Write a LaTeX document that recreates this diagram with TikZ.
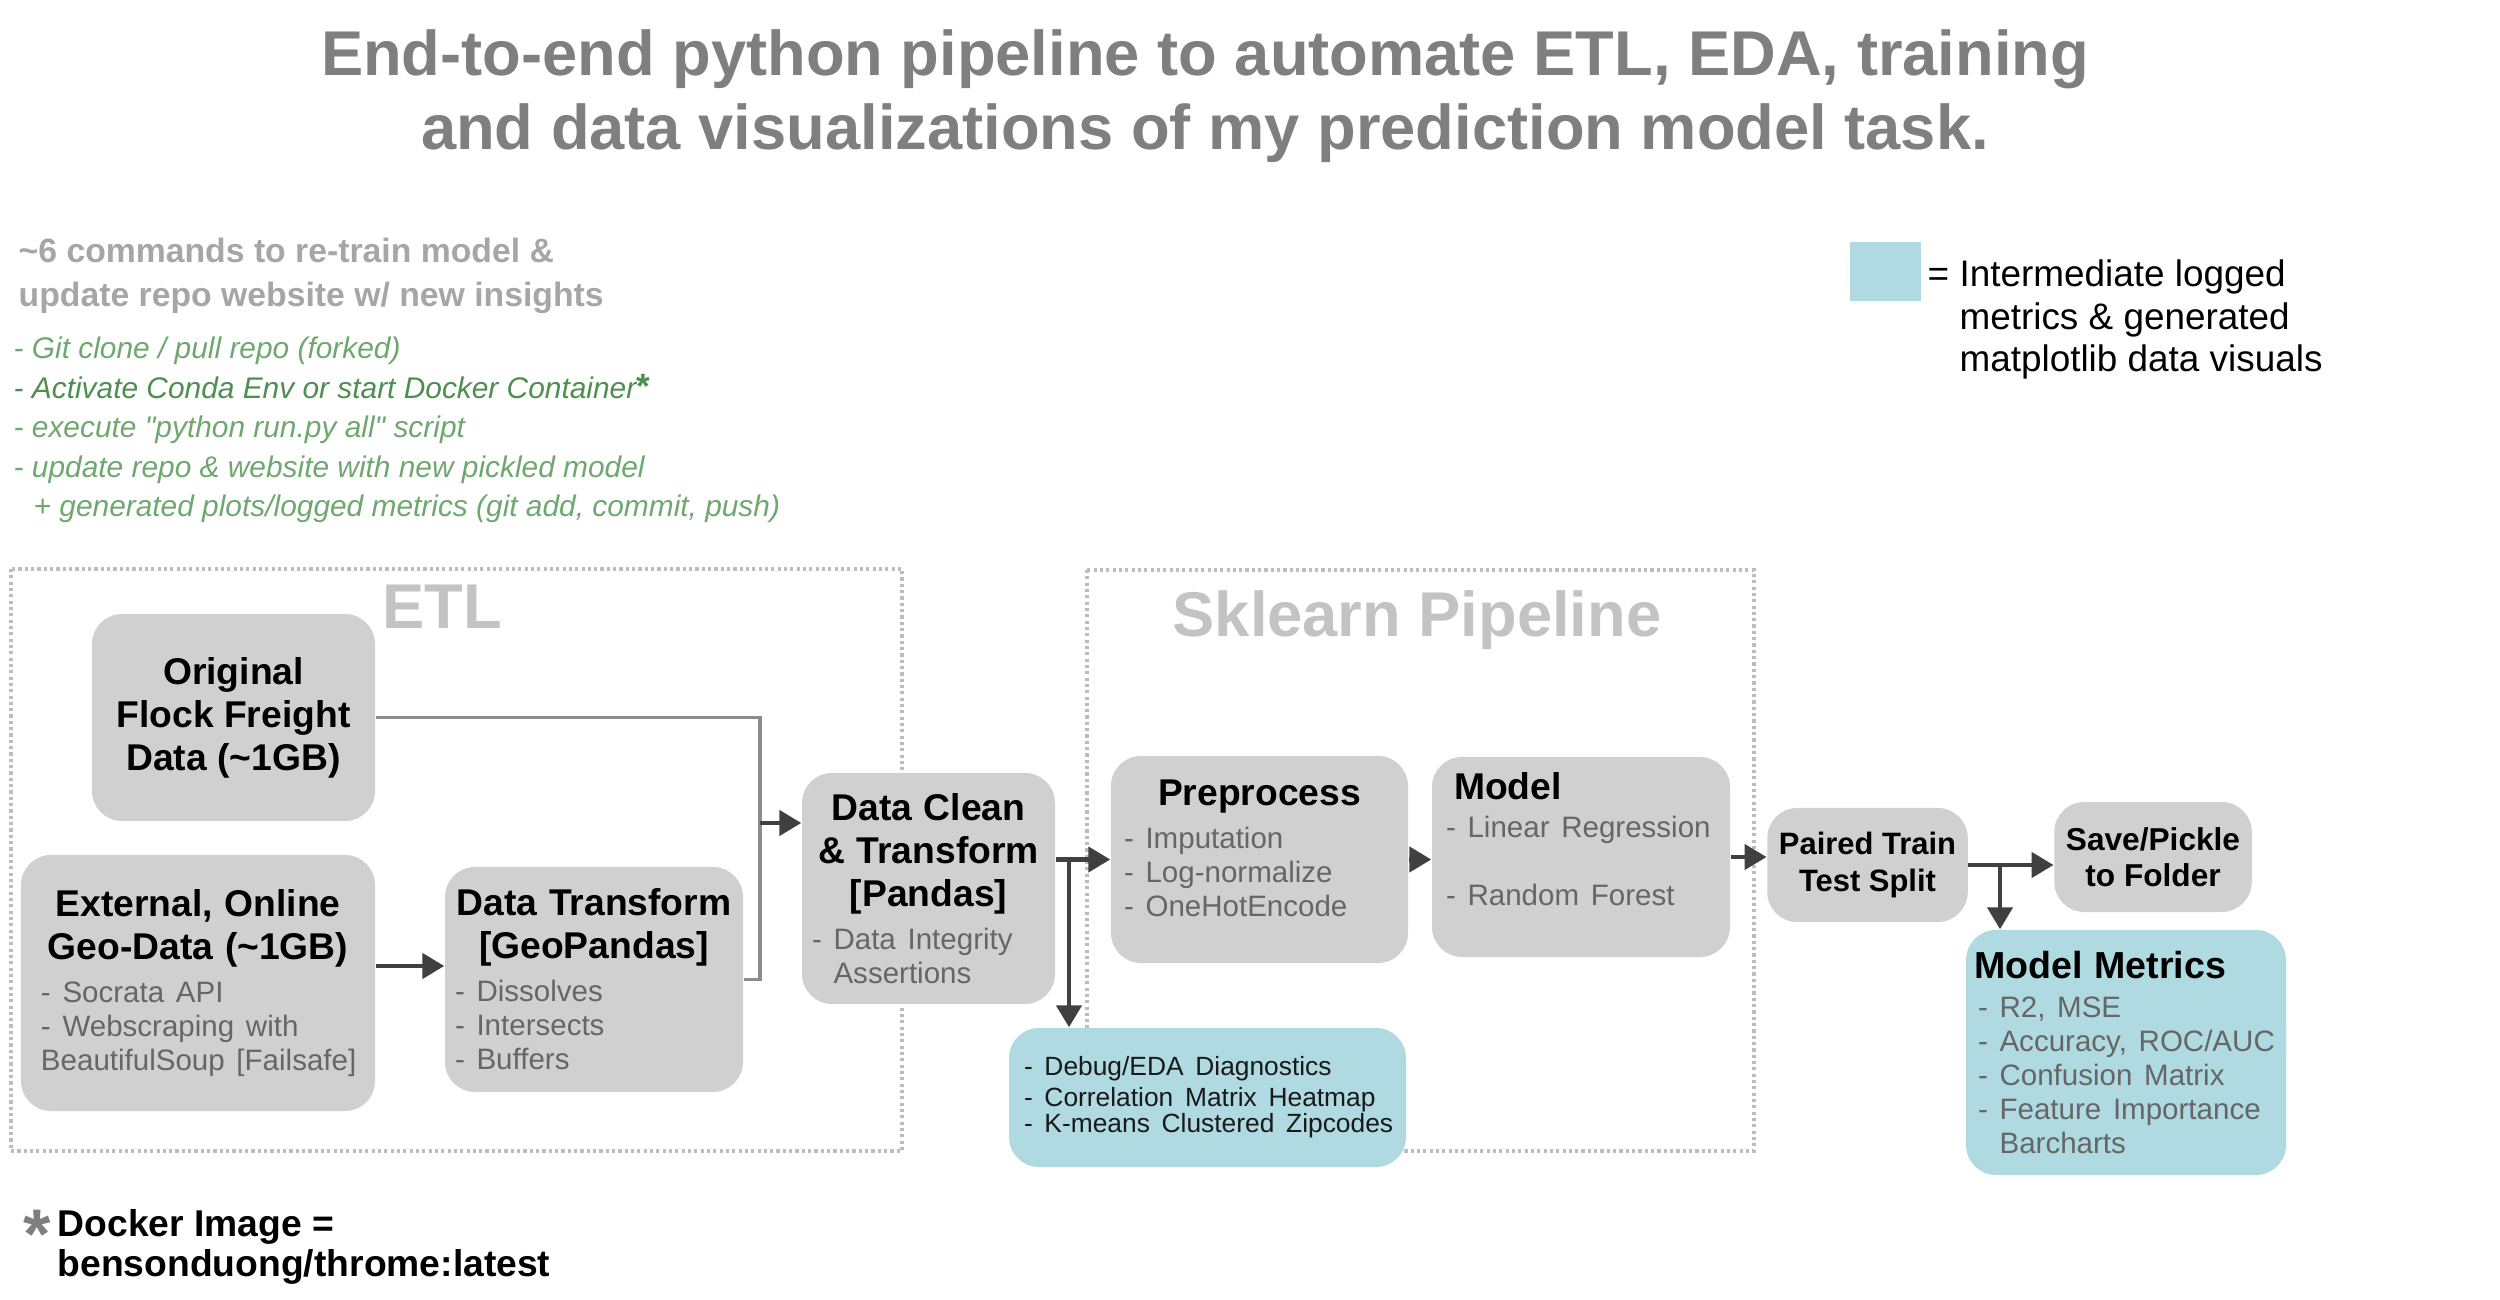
\documentclass[tikz,border=0pt]{standalone}
\usepackage{fontspec}
\setmainfont{Liberation Sans}
\usetikzlibrary{arrows.meta}

\definecolor{boxgray}{HTML}{D0D0D0}
\definecolor{logblue}{HTML}{AFDAE2}
\definecolor{titlegray}{HTML}{7F7F7F}
\definecolor{headgray}{HTML}{A6A6A6}
\definecolor{framegray}{HTML}{BDBDBD}
\definecolor{labelgray}{HTML}{C3C3C3}
\definecolor{itemgray}{HTML}{666666}
\definecolor{cmdgreen}{HTML}{6FA86F}
\definecolor{cmdgreendark}{HTML}{4E8E4E}
\definecolor{arrowdark}{HTML}{404040}
\definecolor{linegray}{HTML}{8C8C8C}

\newcommand{\bxtitle}{\fontsize{10.6}{12.2}\selectfont\bfseries}
\newcommand{\bxitem}{\fontsize{8.4}{9.7}\selectfont\color{itemgray}}
% extra room under the text, lifts it inside its box
\newcommand{\bxlift}[1]{\par\nointerlineskip\vspace{#1}\hbox{}}

\tikzset{
  stage/.style={fill=boxgray, rounded corners=0.3cm, inner ysep=0pt},
  logged/.style={fill=logblue, rounded corners=0.3cm, inner ysep=0pt},
  dotframe/.style={draw=framegray, line width=0.9pt, dash pattern=on 0.9pt off 0.9pt},
  flow/.style={draw=arrowdark, line width=1.3pt, -{Triangle[length=0.22cm,width=0.25cm]}},
  feed/.style={draw=linegray, line width=1.1pt},
  grouplabel/.style={font=\fontsize{18}{21}\selectfont\bfseries, text=labelgray, inner sep=0pt, anchor=base},
}

\begin{document}
\begin{tikzpicture}
    \useasboundingbox (0,0) rectangle (25,-13);

    % heading and notes
    \node[font=\fontsize{18}{21}\selectfont\bfseries, text=titlegray, align=center] (title) at (12.05,-0.965) {End-to-end python pipeline to automate ETL, EDA, training\\and data visualizations of my prediction model task.};
    \node[font=\fontsize{9.6}{12.5}\selectfont\bfseries, text=headgray, align=left, inner sep=0pt, anchor=west] (cmdhead) at (0.18,-2.76) {\textasciitilde6 commands to re-train model \&\\update repo website w/ new insights};
    \node[font=\fontsize{8.5}{11.2}\selectfont\itshape, text=cmdgreen, align=left, inner sep=0pt, anchor=west] (cmds) at (0.13,-4.30) {- Git clone / pull repo (forked)\\{\color{cmdgreendark}- Activate Conda Env or start Docker Container{\upshape\bfseries\fontsize{10}{11.2}\selectfont*}}\\- execute \textquotedbl python run.py all\textquotedbl\ script\\- update repo \& website with new pickled model\\\hspace*{0.2cm}+ generated plots/logged metrics (git add, commit, push)};

    \node[fill=logblue, minimum width=0.71cm, minimum height=0.59cm, inner sep=0pt] (key) at (18.855,-2.715) {};
    \node[font=\fontsize{10.5}{12.2}\selectfont, align=left, inner sep=0pt, anchor=west] (keytext) at (19.27,-3.195) {= Intermediate logged\\\phantom{= }metrics \& generated\\\phantom{= }matplotlib data visuals};

    \node[font=\fontsize{20}{20}\selectfont\bfseries, text=titlegray, inner sep=0pt, anchor=base] (star) at (0.37,-12.58) {*};
    \node[font=\fontsize{10.6}{11.4}\selectfont\bfseries, align=left, inner sep=0pt, anchor=west] (docker) at (0.57,-12.465) {Docker Image =\\bensonduong/throme:latest};

    % groups
    \draw[dotframe] (0.11,-5.69) rectangle (9.02,-11.51);
    \draw[dotframe] (10.87,-5.70) rectangle (17.54,-11.51);
    \node[grouplabel] (etl) at (4.42,-6.29) {ETL};
    \node[grouplabel] (skl) at (14.17,-6.37) {Sklearn Pipeline};

    % stages
    \node[stage, minimum width=2.83cm, minimum height=2.07cm, align=center, font=\bxtitle] (orig) at (2.335,-7.175) {Original\\Flock Freight\\Data (\textasciitilde1GB)};
    \node[stage, minimum width=3.54cm, minimum height=2.56cm, text width=3.44cm, inner xsep=0.05cm] (ext) at (1.98,-9.83) {{\centering\bxtitle External, Online\\Geo-Data (\textasciitilde1GB)\par}\vspace{2.5pt}{\bxitem\raggedright\leftskip=0.15cm - Socrata API\\- Webscraping with\\BeautifulSoup [Failsafe]\par}};
    \node[stage, minimum width=2.98cm, minimum height=2.25cm, text width=2.88cm, inner xsep=0.05cm] (geo) at (5.94,-9.795) {{\centering\bxtitle Data Transform\\{}[GeoPandas]\par}\vspace{2.5pt}{\bxitem\raggedright\leftskip=0.05cm - Dissolves\\- Intersects\\- Buffers\par}};
    \node[stage, minimum width=2.53cm, minimum height=2.31cm, text width=2.33cm, inner xsep=0.1cm] (clean) at (9.285,-8.885) {{\centering\bxtitle Data Clean\\\& Transform\\{}[Pandas]\par}\vspace{2.5pt}{\bxitem\raggedright - Data Integrity\\\phantom{- }Assertions\par}};
    \node[stage, minimum width=2.97cm, minimum height=2.07cm, text width=2.71cm, inner xsep=0.13cm] (prep) at (12.595,-8.595) {{\centering\bxtitle Preprocess\par}\vspace{2.5pt}{\bxitem\raggedright - Imputation\\- Log-normalize\\- OneHotEncode\par}\bxlift{0.22cm}};
    \node[stage, minimum width=2.98cm, minimum height=2.00cm, text width=2.70cm, inner xsep=0.14cm] (model) at (15.81,-8.57) {{\bxtitle\raggedright\leftskip=0.08cm Model\par}\vspace{1pt}{\bxitem\raggedright - Linear Regression\\[9.7pt]- Random Forest\par}\bxlift{0.36cm}};
    \node[stage, minimum width=1.99cm, minimum height=1.14cm, align=center, font=\fontsize{8.8}{10.4}\selectfont\bfseries] (split) at (18.675,-8.65) {Paired Train\\Test Split};
    \node[stage, minimum width=1.96cm, minimum height=1.10cm, align=center, font=\fontsize{9}{10.4}\selectfont\bfseries] (save) at (21.53,-8.57) {Save/Pickle\\to Folder};
    \node[logged, minimum width=3.97cm, minimum height=1.39cm, text width=3.77cm, inner xsep=0.1cm, text=black!90] (debug) at (12.075,-10.975) {\fontsize{7.5}{7.4}\selectfont\raggedright\leftskip=0.05cm - Debug/EDA Diagnostics\\[1.4pt]- Correlation Matrix Heatmap\\- K-means Clustered Zipcodes\par};
    \node[logged, minimum width=3.20cm, minimum height=2.45cm, text width=3.04cm, inner xsep=0.08cm] (metrics) at (21.26,-10.525) {{\fontsize{10.7}{12.2}\selectfont\bfseries\raggedright Model Metrics\par}\vspace{1.5pt}{\bxitem\raggedright\leftskip=0.04cm - R2, MSE\\- Accuracy, ROC/AUC\\- Confusion Matrix\\- Feature Importance\\\phantom{- }Barcharts\par}};

    % connectors
    \coordinate (jn) at (7.60,-8.23);
    \coordinate (cb) at (10.69,-8.595);
    \coordinate (sb) at (20.00,-8.65);
    \draw[feed] (orig.east) -| (jn) |- (geo.east);
    \draw[flow] (jn) -- (jn -| clean.west);
    \draw[flow] ([yshift=0.17cm]ext.east) -- ([yshift=0.17cm]ext.east -| geo.west);
    \draw[flow] (clean.east |- prep.west) -- (prep.west);
    \draw[flow] (cb) -- (cb |- debug.north);
    \draw[flow] (prep.east) -- (prep.east -| model.west);
    \draw[flow] (model.east) -- (model.east -| split.west);
    \draw[flow] (split.east) -- (split.east -| save.west);
    \draw[flow] (sb) -- (sb |- metrics.north);
\end{tikzpicture}
\end{document}
